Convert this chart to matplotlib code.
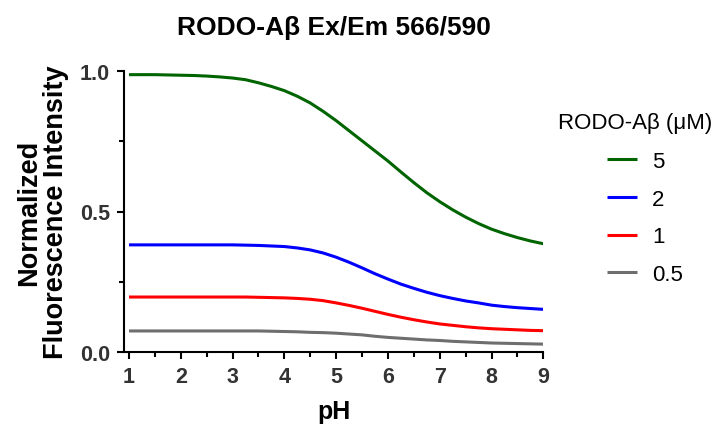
import matplotlib
matplotlib.use("Agg")
import matplotlib.pyplot as plt
from matplotlib.ticker import MultipleLocator

plt.rcParams['font.family'] = ['Liberation Sans', 'DejaVu Sans']

# Data (pH vs normalized fluorescence)
ph = [1.0, 1.25, 1.5, 1.75, 2.0, 2.25, 2.5, 2.75, 3.0, 3.25, 3.5, 3.75, 4.0, 4.25, 4.5, 4.75,
      5.0, 5.25, 5.5, 5.75, 6.0, 6.25, 6.5, 6.75, 7.0, 7.25, 7.5, 7.75, 8.0, 8.25, 8.5, 8.75, 9.0]
conc_5 = [0.988, 0.988, 0.988, 0.987, 0.986, 0.985, 0.983, 0.980, 0.976, 0.970, 0.959, 0.946,
          0.931, 0.911, 0.887, 0.857, 0.824, 0.788, 0.752, 0.716, 0.680, 0.641, 0.603, 0.567,
          0.535, 0.506, 0.480, 0.457, 0.437, 0.421, 0.407, 0.395, 0.385]
conc_2 = [0.381, 0.381, 0.381, 0.381, 0.381, 0.381, 0.381, 0.381, 0.381, 0.380, 0.379, 0.377,
          0.375, 0.370, 0.363, 0.352, 0.337, 0.319, 0.299, 0.278, 0.259, 0.241, 0.226, 0.212,
          0.200, 0.190, 0.181, 0.174, 0.166, 0.161, 0.157, 0.154, 0.151]
conc_1 = [0.195, 0.195, 0.195, 0.195, 0.195, 0.195, 0.195, 0.195, 0.195, 0.195, 0.194, 0.193,
          0.192, 0.190, 0.187, 0.182, 0.174, 0.165, 0.155, 0.144, 0.133, 0.123, 0.114, 0.106,
          0.099, 0.094, 0.089, 0.085, 0.082, 0.080, 0.078, 0.076, 0.075]
conc_05 = [0.074, 0.074, 0.074, 0.074, 0.074, 0.074, 0.074, 0.074, 0.074, 0.074, 0.074, 0.073,
           0.072, 0.071, 0.069, 0.068, 0.066, 0.063, 0.060, 0.055, 0.051, 0.048, 0.045, 0.042,
           0.040, 0.037, 0.035, 0.033, 0.031, 0.030, 0.029, 0.028, 0.027]

series_labels = ["5", "2", "1", "0.5"]
series_values = [conc_5, conc_2, conc_1, conc_05]
series_colors = ["#006400", "#0000FF", "#FF0000", "#6E6E6E"]
legend_title = "RODO-Aβ (μM)"

fig = plt.figure(figsize=(7.25, 4.27), dpi=100)
ax = fig.add_axes([124 / 725, 1 - 352.7 / 427, (543.3 - 124) / 725, (352.7 - 72.3) / 427])

for lab, vals, col in zip(series_labels, series_values, series_colors):
    ax.plot(ph, vals, color=col, lw=2.2, label=lab, solid_capstyle='butt',
            solid_joinstyle='round')

ax.set_xlim(0.903, 9.0)
ax.set_ylim(0.0, 1.0)
ax.xaxis.set_major_locator(MultipleLocator(1))
ax.xaxis.set_minor_locator(MultipleLocator(0.5))
ax.yaxis.set_major_locator(MultipleLocator(0.5))
ax.yaxis.set_minor_locator(MultipleLocator(0.25))
ax.set_xticks([1, 2, 3, 4, 5, 6, 7, 8, 9])
ax.set_yticks([0.0, 0.5, 1.0])
ax.set_yticklabels(["0.0", "0.5", "1.0"])

for s in ['top', 'right']:
    ax.spines[s].set_visible(False)
for s in ['left', 'bottom']:
    ax.spines[s].set_linewidth(1.5)
    ax.spines[s].set_color('black')

ax.tick_params(which='major', direction='out', length=5, width=1.5, colors='black',
               labelsize=15.5, labelcolor='#333333', pad=5)
ax.tick_params(which='minor', direction='out', length=3.5, width=1.5, colors='black')
for t in ax.get_xticklabels() + ax.get_yticklabels():
    t.set_fontweight('bold')

ax.set_xlabel("pH", fontsize=18, fontweight='bold', labelpad=9)
ax.set_ylabel("Normalized\nFluorescence Intensity", fontsize=19.5, fontweight='bold',
              labelpad=8, linespacing=1.05)

fig.text(334 / 725, 1 - 28 / 427, "RODO-Aβ Ex/Em 566/590", ha='center', va='center',
         fontsize=19, fontweight='bold')

leg = ax.legend(loc='upper left', bbox_to_anchor=(607 / 725, 1 - 152 / 427),
                bbox_transform=fig.transFigure, frameon=False, fontsize=16,
                handlelength=1.35, handletextpad=0.68, labelspacing=0.75,
                borderaxespad=0, borderpad=0)
fig.text(558 / 725, 1 - 123 / 427, legend_title, ha='left', va='center', fontsize=16)

fig.savefig("out.png", dpi=100)
